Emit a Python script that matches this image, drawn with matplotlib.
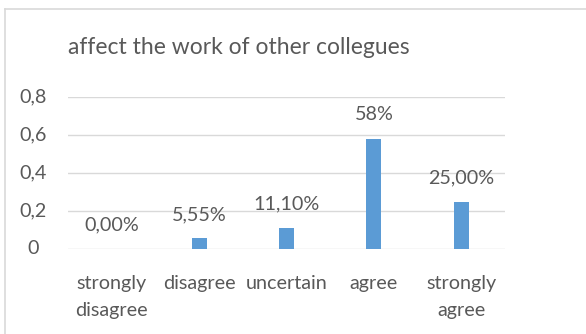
import matplotlib
matplotlib.use("Agg")
import matplotlib.pyplot as plt
from matplotlib.lines import Line2D

categories = ["strongly\ndisagree", "disagree", "uncertain", "agree", "strongly\nagree"]
values = [0.0, 0.0555, 0.111, 0.58, 0.25]
value_labels = ["0,00%", "5,55%", "11,10%", "58%", "25,00%"]
yticks = [0, 0.2, 0.4, 0.6, 0.8]
ytick_labels = ["0", "0,2", "0,4", "0,6", "0,8"]
title = "affect the work of other collegues"

TEXT = "#595959"
BAR = "#5B9BD5"
GRID = "#D9D9D9"
FS = 14.2

plt.rcParams["font.family"] = ["Lato", "DejaVu Sans"]

W, H = 586, 334
fig = plt.figure(figsize=(W / 100, H / 100), dpi=100)

# plot area in pixel coordinates
x0, x1 = 68, 505
y_top, y_bot = 97, 249
ax = fig.add_axes([x0 / W, 1 - y_bot / H, (x1 - x0) / W, (y_bot - y_top) / H])

xs = range(len(categories))
ax.bar(xs, values, width=0.17, color=BAR, zorder=3)
ax.set_xlim(-0.5, len(categories) - 0.5)
ax.set_ylim(0, 0.8)
ax.set_xticks(list(xs))
ax.set_xticklabels(categories, linespacing=1.72)
ax.set_yticks(yticks)
ax.set_yticklabels([])
ax.tick_params(axis="both", length=0, colors=TEXT, labelsize=FS)
ax.tick_params(axis="x", pad=18.5)
ax.grid(axis="y", color=GRID, linewidth=1, zorder=0)
for s in ax.spines.values():
    s.set_visible(False)

# y-axis labels, centred in the margin
for t, lab in zip(yticks, ytick_labels):
    ax.annotate(lab, (0, t), xycoords=("axes fraction", "data"),
                xytext=(33 - x0, 0), textcoords="offset pixels",
                ha="center", va="center", color=TEXT, fontsize=FS)

for x, v, lab in zip(xs, values, value_labels):
    ax.annotate(lab, (x, v), xytext=(0, 24), textcoords="offset pixels",
                ha="center", va="center", color=TEXT, fontsize=FS)

fig.text(x0 / W, 1 - 48 / H, title, ha="left", va="center", color=TEXT, fontsize=16.5)

# chart frame (top and left edges)
fig.add_artist(Line2D([5 / W, 1], [1 - 9 / H, 1 - 9 / H], color=GRID, linewidth=1.2,
                      transform=fig.transFigure))
fig.add_artist(Line2D([5 / W, 5 / W], [0, 1 - 9 / H], color=GRID, linewidth=1.2,
                      transform=fig.transFigure))

fig.savefig("out.png", dpi=100, facecolor="white")
